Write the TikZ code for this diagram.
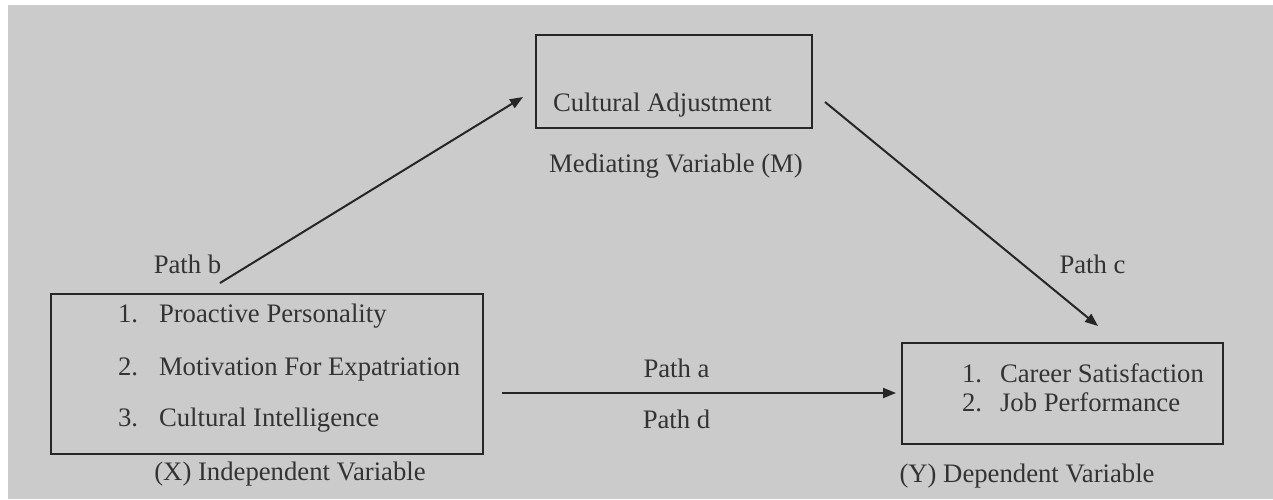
\documentclass[tikz,border=0pt]{standalone}
\usepackage{fontspec}
\setmainfont{Liberation Serif}
\usetikzlibrary{arrows.meta}
\definecolor{bg}{HTML}{CBCBCB}
\definecolor{ink}{HTML}{333333}
\definecolor{linec}{HTML}{262626}
\begin{document}
\begin{tikzpicture}[x=1pt,y=-1pt,
  txt/.style={inner sep=0pt,outer sep=0pt,text=ink,font=\fontsize{26.7}{32}\selectfont,anchor=base west},
  ctxt/.style={txt,anchor=base},
  boxx/.style={draw=linec,line width=2pt,inner sep=0pt,minimum width=#1},
  arr/.style={draw=linec,line width=2pt,-{Triangle[length=13pt,width=10pt]}}]
\useasboundingbox (0,0) rectangle (1273,499);
\fill[white] (0,0) rectangle (1273,499);
\fill[bg] (8,5) rectangle (1273,499);
% boxes
\node[boxx=276pt,minimum height=93pt] (M) at (674,81.5) {};
\node[boxx=432pt,minimum height=160pt] (X) at (267,374) {};
\node[boxx=321pt,minimum height=101pt] (Y) at (1062.5,393.5) {};
% box texts
\node[txt] (mt) at (553,111) {Cultural Adjustment};
\node[ctxt] (ml) at (676,172) {Mediating Variable (M)};
\node[txt] (x1n) at (118,322) {1.};
\node[txt] (x1) at (159,322) {Proactive Personality};
\node[txt] (x2n) at (118,375) {2.};
\node[txt] (x2) at (159,375) {Motivation For Expatriation};
\node[txt] (x3n) at (118,426) {3.};
\node[txt] (x3) at (159,426) {Cultural Intelligence};
\node[ctxt] (xl) at (290,480) {(X) Independent Variable};
\node[txt] (y1n) at (962,382) {1.};
\node[txt] (y1) at (1000,382) {Career Satisfaction};
\node[txt] (y2n) at (962,411) {2.};
\node[txt] (y2) at (1000,411) {Job Performance};
\node[ctxt] (yl) at (1027,482) {(Y) Dependent Variable};
% path labels
\node[ctxt] (pb) at (187.5,273) {Path b};
\node[ctxt] (pc) at (1092.5,273) {Path c};
\node[ctxt] (pa) at (676.5,377) {Path a};
\node[ctxt] (pd) at (676.5,428) {Path d};
% connector end points
\coordinate (b1) at (220,283);
\coordinate (b2) at (523,97);
\coordinate (c1) at (825,102);
\coordinate (c2) at (1098,326);
\coordinate (a1) at (502,393);
\coordinate (a2) at (896,393);
\draw[arr] (b1) -- (b2);
\draw[arr] (c1) -- (c2);
\draw[arr] (a1) -- (a2);
\end{tikzpicture}
\end{document}
